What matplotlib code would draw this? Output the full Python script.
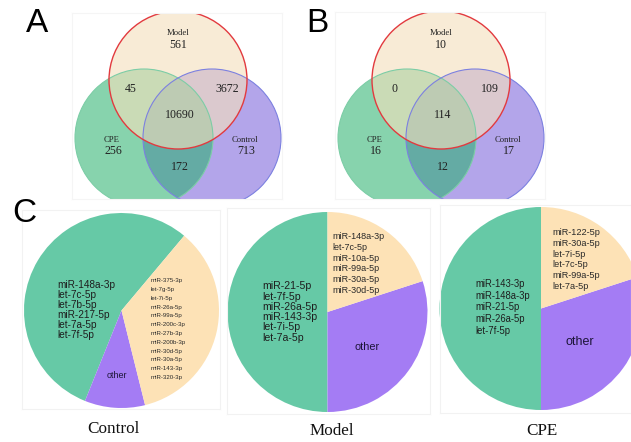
import matplotlib
matplotlib.use("Agg")
import matplotlib.pyplot as plt
from matplotlib.patches import Circle

W, H = 631, 442

# Venn counts (only / pair overlaps / all three)
venn_sets = ["Model", "CPE", "Control"]
venn_a = {"Model": 561, "CPE": 256, "Control": 713,
          "Model_CPE": 45, "Model_Control": 3672, "CPE_Control": 172, "all": 10690}
venn_b = {"Model": 10, "CPE": 16, "Control": 17,
          "Model_CPE": 0, "Model_Control": 109, "CPE_Control": 12, "all": 114}

# pie shares (%) : top miRNAs (green), other (purple), second group (beige)
pie_titles = ["Control", "Model", "CPE"]
pie_values = [[55, 10, 35], [50, 30, 20], [50, 30, 20]]
pie_start = [50, 90, 90]
green_labels = [
    ["miR-148a-3p", "let-7c-5p", "let-7b-5p", "miR-217-5p", "let-7a-5p", "let-7f-5p"],
    ["miR-21-5p", "let-7f-5p", "miR-26a-5p", "miR-143-3p", "let-7i-5p", "let-7a-5p"],
    ["miR-143-3p", "miR-148a-3p", "miR-21-5p", "miR-26a-5p", "let-7f-5p"],
]
beige_labels = [
    ["miR-375-3p", "let-7g-5p", "let-7i-5p", "miR-26a-5p", "miR-99a-5p", "miR-200c-3p",
     "miR-27b-3p", "miR-200b-3p", "miR-30d-5p", "miR-30a-5p", "miR-143-3p", "miR-320-3p"],
    ["miR-148a-3p", "let-7c-5p", "miR-10a-5p", "miR-99a-5p", "miR-30a-5p", "miR-30d-5p"],
    ["miR-122-5p", "miR-30a-5p", "let-7i-5p", "let-7c-5p", "miR-99a-5p", "let-7a-5p"],
]

GREEN = "#66c9a6"
BEIGE = "#fde2b6"
PURPLE = "#a47cf4"
SERIF = "Liberation Serif"
SANS = "Liberation Sans"

fig = plt.figure(figsize=(W / 100, H / 100), dpi=100)


def panel(x0, y0, x1, y1, edge="#f2f2f2"):
    # axes whose data units are figure pixels (y measured upward)
    ax = fig.add_axes([x0 / W, 1 - y1 / H, (x1 - x0) / W, (y1 - y0) / H])
    ax.set_xlim(x0, x1)
    ax.set_ylim(H - y1, H - y0)
    ax.set_xticks([])
    ax.set_yticks([])
    for s in ax.spines.values():
        s.set_color(edge)
        s.set_linewidth(0.8)
    return ax


def venn(ax, cx, counts):
    cy_top, cy_low, r = H - 80, H - 138, 69
    ax.add_patch(Circle((cx + 34, cy_low), r, fc=(0.46, 0.36, 0.85), alpha=0.55,
                        ec="none"))
    ax.add_patch(Circle((cx - 34, cy_low), r, fc=(0.14, 0.69, 0.42), alpha=0.55,
                        ec="none"))
    ax.add_patch(Circle((cx, cy_top), r, fc=(0.96, 0.88, 0.74), alpha=0.62, ec="none"))
    ax.add_patch(Circle((cx - 34, cy_low), r, fc="none", ec="#7ccda6", lw=0.8))
    ax.add_patch(Circle((cx + 34, cy_low), r, fc="none", ec="#7c80e0", lw=0.8))
    ax.add_patch(Circle((cx, cy_top), r, fc="none", ec="#e23a3f", lw=1.0))
    big = dict(fontsize=8.6, family=SERIF, color="#222222", ha="center", va="center")
    small = dict(fontsize=6.2, family=SERIF, color="#222222", ha="center", va="center")
    ax.text(cx, H - 33, "Model", **small)
    ax.text(cx, H - 45, str(counts["Model"]), **big)
    ax.text(cx - 66, H - 140, "CPE", **small)
    ax.text(cx - 65, H - 151, str(counts["CPE"]), **big)
    ax.text(cx + 67, H - 140, "Control", **small)
    ax.text(cx + 68, H - 151, str(counts["Control"]), **big)
    ax.text(cx - 47, H - 89, str(counts["Model_CPE"]), **big)
    ax.text(cx + 49, H - 89, str(counts["Model_Control"]), **big)
    ax.text(cx + 2, H - 167, str(counts["CPE_Control"]), **big)
    ax.text(cx + 2, H - 115, str(counts["all"]), **big)


ax_a = panel(72, 13, 282, 199, edge="#f5f5f5")
venn(ax_a, 178, venn_a)
ax_b = panel(335, 12, 545, 199, edge="#f5f5f5")
venn(ax_b, 441, venn_b)

# pie panels: box, centre, radius, text positions
boxes = [(22, 210, 220, 409), (227, 208, 430, 414), (440, 205, 631, 413)]
centres = [(121.5, 310.5, 97.5), (327.5, 312, 100), (541, 308.5, 101.5)]
green_pos = [(57, 310, 7.2, 0.99), (262, 312, 7.6, 1.03), (475, 307.5, 6.85, 1.2)]
beige_pos = [(151, 329, 4.4, 1.95), (332, 263.5, 6.5, 1.28), (552, 259.5, 6.6, 1.25)]
other_pos = [(117, 376, 6.5), (367, 347, 7.8), (580, 342, 9.0)]
title_pos = [(113, 429), (332, 431), (542, 431)]

for i in range(3):
    ax = panel(*boxes[i])
    cx, cy, r = centres[i]
    ax.pie(pie_values[i], colors=[GREEN, PURPLE, BEIGE], startangle=pie_start[i],
           center=(cx, H - cy), radius=r, counterclock=True,
           wedgeprops=dict(linewidth=0), frame=True)
    x0, y0, x1, y1 = boxes[i]
    ax.set_xlim(x0, x1)
    ax.set_ylim(H - y1, H - y0)
    ax.set_aspect("auto")
    gx, gy, gs, gl = green_pos[i]
    ax.text(gx, H - gy, "\n".join(green_labels[i]), fontsize=gs, family=SANS,
            color="#1e1e1e", ha="left", va="center", linespacing=gl)
    bx, by, bs, bl = beige_pos[i]
    ax.text(bx, H - by, "\n".join(beige_labels[i]), fontsize=bs, family=SANS,
            color="#2a2a2a", ha="left", va="center", linespacing=bl)
    ox, oy, osz = other_pos[i]
    ax.text(ox, H - oy, "other", fontsize=osz, family=SANS, color="#1c1438",
            ha="center", va="center")
    tx, ty = title_pos[i]
    fig.text(tx / W, 1 - ty / H, pie_titles[i], fontsize=12.3, family=SERIF,
             color="#111111", ha="center", va="center")

# panel letters
for letter, (lx, ly) in zip("ABC", [(37, 23), (317, 23), (24, 213)]):
    fig.text(lx / W, 1 - ly / H, letter, fontsize=24, family=SANS,
             ha="center", va="center")

fig.savefig("out.png", dpi=100)
